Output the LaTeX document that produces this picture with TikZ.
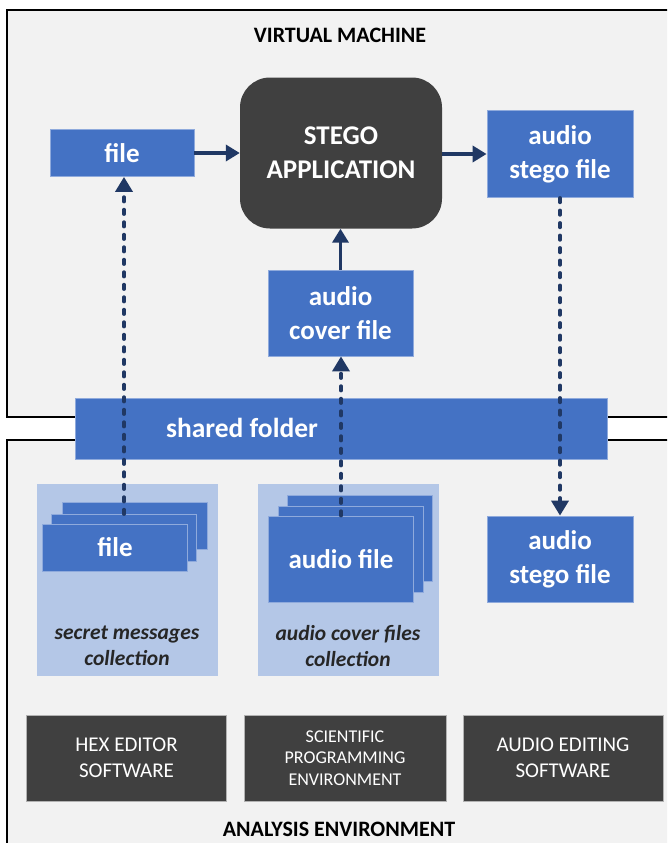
\documentclass[tikz,border=0pt]{standalone}
\usepackage{fontspec}
\setmainfont{Carlito}
\usetikzlibrary{arrows.meta}
\definecolor{boxblue}{HTML}{4472C4}
\definecolor{edgeblue}{HTML}{8FAADC}
\definecolor{paleblue}{HTML}{B4C7E7}
\definecolor{darkbox}{HTML}{404040}
\definecolor{navy}{HTML}{203864}
\definecolor{bggray}{HTML}{F2F2F2}
\definecolor{labelgray}{HTML}{262626}
\tikzset{
  filebox/.style={draw=edgeblue,line width=0.8pt,fill=boxblue,text=white,inner sep=0pt,
    align=center,font=\fontsize{27}{34}\selectfont\bfseries},
  toolbox/.style={draw=gray!60,line width=0.6pt,fill=darkbox,text=white,inner sep=0pt,
    align=center,minimum width=200pt,minimum height=86pt},
  collbox/.style={fill=paleblue,inner sep=0pt,minimum width=181pt,minimum height=192pt},
  frame/.style={draw=black,line width=2pt,fill=bggray},
  flow/.style={draw=navy,line width=3.5pt,-{Triangle[length=14pt,width=16pt]}},
  dotflow/.style={draw=navy,line width=3.6pt,line cap=round,dash pattern=on 4.5pt off 8pt,
    -{Triangle[length=15pt,width=17pt,sharp]}},
  title/.style={font=\fontsize{22}{26}\selectfont\bfseries}
}
\begin{document}
\begin{tikzpicture}[x=1pt,y=-1pt]
\clip (0,0) rectangle (667,843);
\fill[white] (0,0) rectangle (667,843);
\draw[frame] (7,10) rectangle (700,417);
\draw[frame] (7,440) rectangle (700,880);
\node[title] (vmlabel) at (340,35) {VIRTUAL MACHINE};
\node[title] (envlabel) at (339,829) {ANALYSIS ENVIRONMENT};

\node[filebox,minimum width=144pt,minimum height=47pt] (msg) at (122,153) {file};
\node[fill=darkbox,rounded corners=30pt,minimum width=202pt,minimum height=151pt,text=white,
  align=center,font=\fontsize{27}{34}\selectfont\bfseries] (stego) at (341,153) {STEGO\\APPLICATION};
\node[filebox,minimum width=146pt,minimum height=87pt] (stegoout) at (560,154) {audio\\stego file};
\node[filebox,minimum width=145pt,minimum height=86pt] (cover) at (340.5,313) {audio\\cover file};

\node[filebox,minimum width=532pt,minimum height=61pt] (shared) at (341,428.5) {};
\node[text=white,font=\fontsize{27.5}{33}\selectfont\bfseries] (sharedlabel) at (242,428) {shared folder};

\node[collbox] (seccoll) at (127.5,580) {};
\node[collbox] (covcoll) at (348.5,580) {};
\node[filebox,minimum width=145pt,minimum height=47pt] (secback) at (134.5,525.5) {};
\node[filebox,minimum width=145pt,minimum height=47pt] (secmid) at (124,538) {};
\node[filebox,minimum width=145pt,minimum height=47pt] (secfront) at (115,547.5) {file};
\node[filebox,minimum width=145pt,minimum height=86pt] (covback) at (359.5,538) {};
\node[filebox,minimum width=145pt,minimum height=86pt] (covmid) at (350.5,549) {};
\node[filebox,minimum width=145pt,minimum height=86pt] (covfront) at (341,559) {audio file};
\node[filebox,minimum width=146pt,minimum height=86pt] (stegodst) at (560,559) {audio\\stego file};
\node[align=center,text=labelgray,font=\fontsize{21.5}{26}\selectfont\bfseries\itshape] (seclabel) at (127,646)
  {secret messages\\collection};
\node[align=center,text=labelgray,font=\fontsize{21.5}{26}\selectfont\bfseries\itshape] (covlabel) at (348,646)
  {audio cover files\\collection};

\node[toolbox,font=\fontsize{21}{26}\selectfont] (hex) at (126.5,758) {HEX EDITOR\\SOFTWARE};
\node[toolbox,minimum width=202pt,font=\fontsize{18}{21.5}\selectfont] (sci) at (345,758)
  {SCIENTIFIC\\PROGRAMMING\\ENVIRONMENT};
\node[toolbox,font=\fontsize{21}{26}\selectfont] (aud) at (563,758) {AUDIO EDITING\\SOFTWARE};

\draw[flow] (msg) -- (stego);
\draw[flow] (stego.east |- stegoout) -- (stegoout);
\draw[flow] (cover.north) -- (cover.north |- stego.south);
\draw[dotflow] (secmid.north) -- (secmid.north |- msg.south);
\draw[dotflow] (covfront.north) -- (covfront.north |- cover.south);
\draw[dotflow] (stegoout.south) -- (stegodst.north);
\end{tikzpicture}
\end{document}
